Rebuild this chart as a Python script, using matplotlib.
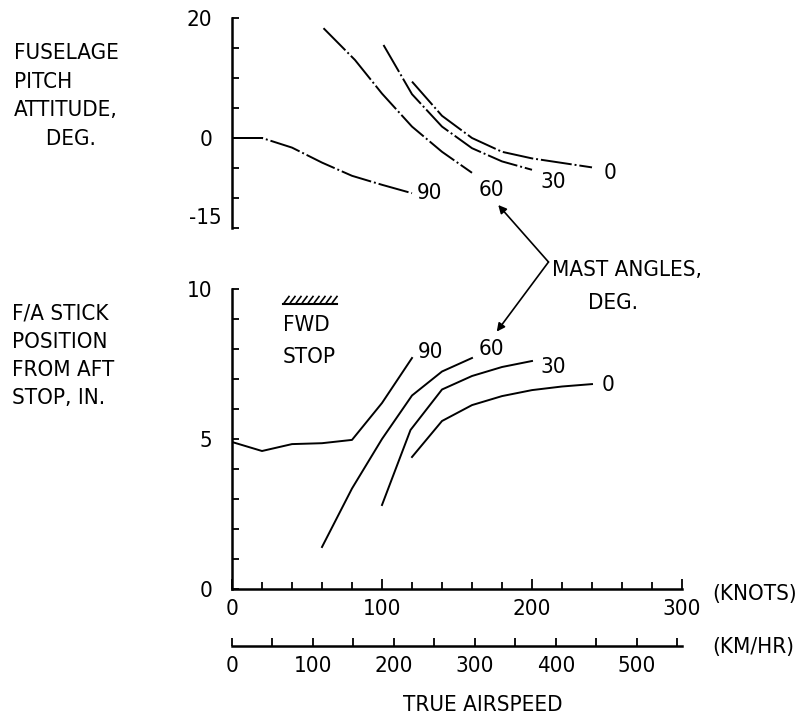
import numpy as np
import matplotlib
matplotlib.use("Agg")
import matplotlib.pyplot as plt
import matplotlib.transforms as mtransforms
from matplotlib.ticker import FixedLocator

plt.rcParams['font.family'] = ['DejaVu Sans']
plt.rcParams['font.stretch'] = 'condensed'

# pitch attitude (deg) vs true airspeed (knots), by mast angle
pitch_90_x = [0, 20, 40, 60, 80, 100, 120]
pitch_90_y = [0, 0, -1.6, -4.1, -6.3, -7.8, -9.2]
pitch_60_x = [61, 82, 100, 120, 140, 160]
pitch_60_y = [18.3, 13.0, 7.4, 1.9, -2.3, -5.8]
pitch_30_x = [101, 120, 140, 160, 180, 200]
pitch_30_y = [15.5, 7.3, 1.9, -1.7, -3.9, -5.3]
pitch_0_x = [120, 140, 160, 180, 200, 240]
pitch_0_y = [9.4, 3.7, 0.0, -2.3, -3.4, -4.9]

# F/A stick position (in) vs true airspeed (knots)
stick_90_x = [0, 20, 40, 60, 80, 100, 120]
stick_90_y = [4.9, 4.6, 4.83, 4.86, 4.97, 6.2, 7.7]
stick_60_x = [60, 80, 100, 120, 140, 160]
stick_60_y = [1.4, 3.35, 5.0, 6.45, 7.25, 7.7]
stick_30_x = [100, 119, 140, 160, 180, 200]
stick_30_y = [2.8, 5.3, 6.65, 7.1, 7.4, 7.6]
stick_0_x = [120, 140, 160, 180, 200, 220, 240]
stick_0_y = [4.4, 5.6, 6.13, 6.43, 6.63, 6.75, 6.83]

mast_labels = ['90', '60', '30', '0']

W, H = 808, 722
fig = plt.figure(figsize=(W / 100, H / 100), dpi=100)


def box(x0, y0, x1, y1):
    # pixel box -> figure fraction
    return [x0 / W, 1 - y1 / H, (x1 - x0) / W, (y1 - y0) / H]


fs = 16
dashdot = (0, (16, 1.5, 1, 1.5))

# ---- top panel: pitch attitude
ax1 = fig.add_axes(box(232, 18, 682, 228))
ax1.set_xlim(0, 300)
ax1.set_ylim(-15, 20)
for s in ['top', 'right', 'bottom']:
    ax1.spines[s].set_visible(False)
ax1.spines['left'].set_linewidth(1.8)
ax1.set_xticks([])
ax1.yaxis.set_major_locator(FixedLocator([-15, 0, 20]))
ax1.yaxis.set_minor_locator(FixedLocator([-10, -5, 5, 10, 15]))
ax1.set_yticklabels(['', '0', '20'])
ax1.tick_params(axis='y', which='both', direction='in', length=5, width=1.3,
                labelsize=fs, pad=14)
ax1.patch.set_alpha(0)
# the -15 label sits a little above its tick in the original
blend1 = mtransforms.blended_transform_factory(ax1.transAxes, ax1.transData)
ax1.text(-0.024, -13.3, '-15', transform=blend1, fontsize=fs, ha='right',
         va='center')

for xs, ys in [(pitch_90_x, pitch_90_y), (pitch_60_x, pitch_60_y),
               (pitch_30_x, pitch_30_y), (pitch_0_x, pitch_0_y)]:
    ax1.plot(xs, ys, color='black', lw=1.4, linestyle=dashdot)
ax1.plot(pitch_90_x[:2], pitch_90_y[:2], color='black', lw=1.4)

top_lab_pos = [(132, -9.2), (173, -8.7), (214, -7.3), (252, -5.8)]
for lab, (x, y) in zip(mast_labels, top_lab_pos):
    ax1.text(x, y, lab, fontsize=fs, ha='center', va='center')

# ---- bottom panel: stick position
ax2 = fig.add_axes(box(232, 289, 682, 589))
ax2.set_xlim(0, 300)
ax2.set_ylim(0, 10)
ax2.spines['top'].set_visible(False)
ax2.spines['right'].set_visible(False)
ax2.spines['left'].set_linewidth(1.8)
ax2.spines['bottom'].set_linewidth(1.8)
ax2.yaxis.set_major_locator(FixedLocator([0, 5, 10]))
ax2.yaxis.set_minor_locator(FixedLocator([1, 2, 3, 4, 6, 7, 8, 9]))
ax2.xaxis.set_major_locator(FixedLocator([0, 100, 200, 300]))
ax2.xaxis.set_minor_locator(FixedLocator(np.arange(20, 300, 20)))
ax2.tick_params(which='both', direction='in', length=5, width=1.3,
                labelsize=fs)
ax2.tick_params(axis='y', pad=14)
ax2.tick_params(axis='x', which='major', length=7, pad=7)
ax2.patch.set_alpha(0)

for xs, ys in [(stick_90_x, stick_90_y), (stick_60_x, stick_60_y),
               (stick_30_x, stick_30_y), (stick_0_x, stick_0_y)]:
    ax2.plot(xs, ys, color='black', lw=1.4)

bot_lab_pos = [(132.5, 7.91), (173, 7.99), (214, 7.39), (251, 6.8)]
for lab, (x, y) in zip(mast_labels, bot_lab_pos):
    ax2.text(x, y, lab, fontsize=fs, ha='center', va='center')

# forward stop marker
ax2.plot([34, 70], [9.5, 9.5], color='black', lw=1.5)
for hx in np.arange(35, 71, 4):
    ax2.plot([hx, hx + 3], [9.55, 9.75], color='black', lw=1.2)
ax2.text(34, 8.8, 'FWD', fontsize=fs, ha='left', va='center')
ax2.text(34, 7.73, 'STOP', fontsize=fs, ha='left', va='center')

# mast angles callout
ax2.annotate('', xy=(177.5, 12.8), xytext=(211, 10.9), annotation_clip=False,
             arrowprops=dict(arrowstyle='-|>', color='black', lw=1.2,
                             mutation_scale=12, shrinkA=0, shrinkB=0))
ax2.annotate('', xy=(176.5, 8.58), xytext=(211, 10.9), annotation_clip=False,
             arrowprops=dict(arrowstyle='-|>', color='black', lw=1.2,
                             mutation_scale=12, shrinkA=0, shrinkB=0))
ax2.text(213, 10.63, 'MAST ANGLES,', fontsize=fs, ha='left', va='center',
         clip_on=False)
ax2.text(254, 9.53, 'DEG.', fontsize=fs, ha='center', va='center',
         clip_on=False)

# ---- km/hr scale
ax3 = fig.add_axes(box(232, 633, 682, 646))
ax3.set_xlim(0, 300 * 1.852)
for s in ['top', 'right', 'left']:
    ax3.spines[s].set_visible(False)
ax3.spines['bottom'].set_linewidth(1.8)
ax3.set_yticks([])
ax3.xaxis.set_major_locator(FixedLocator([0, 100, 200, 300, 400, 500]))
ax3.xaxis.set_minor_locator(FixedLocator([50, 150, 250, 350, 450, 550]))
ax3.tick_params(axis='x', which='both', direction='in', length=6, width=1.3,
                labelsize=fs, pad=7)
ax3.patch.set_alpha(0)

# axis and unit labels
fig.text(712 / W, 1 - 594 / H, '(KNOTS)', fontsize=fs, ha='left', va='center')
fig.text(712 / W, 1 - 647 / H, '(KM/HR)', fontsize=fs, ha='left', va='center')
fig.text(483 / W, 1 - 705 / H, 'TRUE AIRSPEED', fontsize=fs, ha='center',
         va='center')
fig.text(14 / W, 1 - 96 / H, 'FUSELAGE\nPITCH\nATTITUDE,\n     DEG.',
         fontsize=fs, ha='left', va='center', linespacing=1.55)
fig.text(12 / W, 1 - 356 / H, 'F/A STICK\nPOSITION\nFROM AFT\nSTOP, IN.',
         fontsize=fs, ha='left', va='center', linespacing=1.52)

fig.savefig('out.png', dpi=100)
